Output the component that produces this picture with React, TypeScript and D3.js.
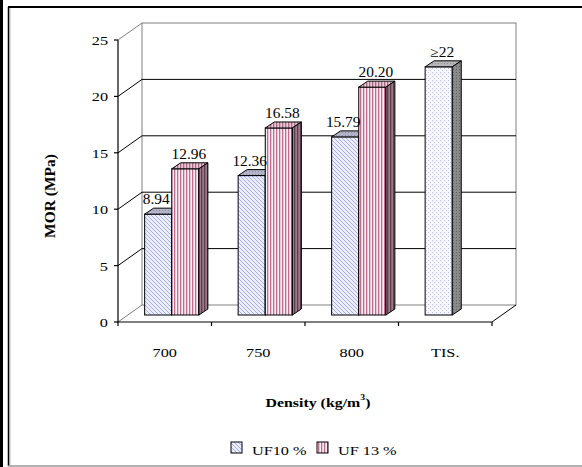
import React from 'react';
import * as d3 from 'd3';

const categories = ['700', '750', '800', 'TIS.'];
const seriesNames = ['UF10 %', 'UF 13 %'];
const uf10 = [8.94, 12.36, 15.79, null];
const uf13 = [12.96, 16.58, 20.2, null];
const tis = [null, null, null, 22];
const yTicks = [0, 5, 10, 15, 20, 25];

const FONT = "'Liberation Serif','Times New Roman',serif";

const W = 582, H = 467;
const X0 = 118, X1 = 492;
const DX = 24, DY = -17; // wall depth
const BX = 7, BY = -7; // bar front offset
const BDX = 9, BDY = -6; // bar depth

const y = d3.scaleLinear().domain([0, 25]).range([322, 40]);
const x = d3.scaleBand<string>().domain(categories).range([X0, X1]).paddingInner(0.42).paddingOuter(0.21);
const sub = d3.scaleBand<string>().domain(seriesNames).range([0, x.bandwidth()]);
const xb = d3.scaleLinear().domain([0, categories.length]).range([X0, X1]);
const fmt = d3.format('.2f');

type TP = { x: number; y: number; sx?: number; anchor?: string; size?: number; weight?: string; children: React.ReactNode };
const T = ({ x, y, sx = 1.25, anchor = 'start', size = 13, weight = 'normal', children }: TP) => (
  <text transform={`translate(${x},${y}) scale(${sx},1)`} textAnchor={anchor as any} fontSize={size} fontWeight={weight} fontFamily={FONT} fill="#000">
    {children}
  </text>
);

const pts = (a: number[][]) => a.map((p) => p.join(',')).join(' ');

function Bar({ x0, w, v, front, top, side }: { x0: number; w: number; v: number; front: string; top: string; side: string }) {
  const yT = y(v) + BY;
  const yB = y(0) + BY;
  return (
    <g stroke="#000" strokeWidth={1}>
      <rect x={x0} y={yT} width={w} height={yB - yT} fill={front} />
      <polygon points={pts([[x0, yT], [x0 + w, yT], [x0 + w + BDX, yT + BDY], [x0 + BDX, yT + BDY]])} fill={top} />
      <polygon points={pts([[x0 + w, yT], [x0 + w + BDX, yT + BDY], [x0 + w + BDX, yB + BDY], [x0 + w, yB]])} fill={side} />
    </g>
  );
}

export default function App() {
  const bw = sub.bandwidth();
  const bars: React.ReactNode[] = [];
  const labels: React.ReactNode[] = [];
  categories.forEach((c, i) => {
    const a = uf10[i];
    const b = uf13[i];
    const t = tis[i];
    const xa = (x(c) as number) + (sub(seriesNames[0]) as number) + BX;
    const xbb = (x(c) as number) + (sub(seriesNames[1]) as number) + BX;
    if (a != null) {
      bars.push(<Bar key={'a' + i} x0={xa} w={bw} v={a} front="url(#blueDiag)" top="url(#blueTop)" side="url(#blueSide)" />);
      labels.push(<T key={'la' + i} x={xa + bw / 2 - 2} y={y(a) + BY + BDY - 4} sx={1.1} size={14} anchor="middle">{fmt(a)}</T>);
    }
    if (t != null) {
      bars.push(<Bar key={'t' + i} x0={xa} w={bw} v={t} front="url(#tisFront)" top="url(#tisTop)" side="url(#tisSide)" />);
      labels.push(<T key={'lt' + i} x={xa + bw / 2 + BDX / 2 - 1} y={y(t) + BY + BDY - 4} sx={1.1} size={14} anchor="middle">{'≥' + t}</T>);
    }
    if (b != null) {
      bars.push(<Bar key={'b' + i} x0={xbb} w={bw} v={b} front="url(#pinkStripe)" top="url(#pinkTop)" side="url(#pinkSide)" />);
      labels.push(<T key={'lb' + i} x={xbb + bw / 2 + BDX / 2 - 1} y={y(b) + BY + BDY - 4} sx={1.1} size={14} anchor="middle">{fmt(b)}</T>);
    }
  });

  const gray = '#808080';
  return (
    <svg width={W} height={H} style={{ position: 'absolute', left: 0, top: 0, background: '#fff' }}>
      <defs>
        <pattern id="blueDiag" width={4} height={4} patternUnits="userSpaceOnUse">
          <rect width={4} height={4} fill="#eceeff" />
          <path d="M-1,-1 L5,5 M-1,3 L1,5 M3,-1 L5,1" stroke="#9ea6ec" strokeWidth={0.9} />
        </pattern>
        <pattern id="blueTop" width={3} height={3} patternUnits="userSpaceOnUse">
          <rect width={3} height={3} fill="#b4b4c8" />
          <rect width={1} height={1} fill="#8c8ca4" />
        </pattern>
        <pattern id="blueSide" width={3} height={3} patternUnits="userSpaceOnUse">
          <rect width={3} height={3} fill="#7c7c98" />
        </pattern>
        <pattern id="pinkStripe" width={3} height={4} patternUnits="userSpaceOnUse">
          <rect width={3} height={4} fill="#fbeef3" />
          <rect x={0} width={1.3} height={4} fill="#c06c8e" />
        </pattern>
        <pattern id="pinkTop" width={3} height={4} patternUnits="userSpaceOnUse">
          <rect width={3} height={4} fill="#e8c8d4" />
          <rect x={0} width={1.3} height={4} fill="#a86a84" />
        </pattern>
        <pattern id="pinkSide" width={3} height={4} patternUnits="userSpaceOnUse">
          <rect width={3} height={4} fill="#9a7a88" />
          <rect x={0} width={1.3} height={4} fill="#5e3e4e" />
        </pattern>
        <pattern id="tisFront" width={4} height={4} patternUnits="userSpaceOnUse">
          <rect width={4} height={4} fill="#f6f7ff" />
          <rect x={0} y={0} width={1} height={1} fill="#b8bdf0" />
          <rect x={2} y={2} width={1} height={1} fill="#b8bdf0" />
        </pattern>
        <pattern id="tisTop" width={3} height={3} patternUnits="userSpaceOnUse">
          <rect width={3} height={3} fill="#b8b8bc" />
          <rect width={1} height={1} fill="#8c8c90" />
        </pattern>
        <pattern id="tisSide" width={3} height={3} patternUnits="userSpaceOnUse">
          <rect width={3} height={3} fill="#8a8a8a" />
          <rect width={1} height={1} fill="#606060" />
        </pattern>
      </defs>

      {/* outer frame */}
      <line x1={1.5} y1={0} x2={1.5} y2={H} stroke="#000" strokeWidth={3} />
      <line x1={8} y1={7} x2={W} y2={7} stroke="#000" strokeWidth={2} />
      <line x1={8.5} y1={7} x2={8.5} y2={466} stroke="#000" strokeWidth={1.5} />
      <line x1={9.8} y1={8} x2={9.8} y2={466} stroke="#999" strokeWidth={1} />
      <line x1={8} y1={466} x2={W} y2={466} stroke="#999" strokeWidth={1.5} />

      {/* walls */}
      <g fill="none">
        <rect x={X0 + DX} y={y(25) + DY} width={X1 - X0} height={y(0) - y(25)} stroke={gray} />
        <line x1={X0} y1={y(25)} x2={X0 + DX} y2={y(25) + DY} stroke={gray} />
        <line x1={X0} y1={y(0)} x2={X0 + DX} y2={y(0) + DY} stroke={gray} />
        <line x1={X1} y1={y(0)} x2={X1 + DX} y2={y(0) + DY} stroke="#000" />
        {yTicks.filter((t) => t > 0 && t < 25).map((t) => (
          <g key={t} stroke="#000">
            <line x1={X0} y1={y(t)} x2={X0 + DX} y2={y(t) + DY} />
            <line x1={X0 + DX} y1={y(t) + DY} x2={X1 + DX} y2={y(t) + DY} />
          </g>
        ))}
      </g>

      {/* axes */}
      <g stroke="#000" strokeWidth={1.2}>
        <line x1={X0} y1={y(25)} x2={X0} y2={y(0)} />
        <line x1={X0} y1={y(0)} x2={X1} y2={y(0)} />
        {yTicks.map((t) => (
          <line key={t} x1={X0 - 4} y1={y(t)} x2={X0} y2={y(t)} />
        ))}
        {d3.range(categories.length + 1).map((k) => (
          <line key={k} x1={xb(k)} y1={y(0)} x2={xb(k)} y2={y(0) + 4} />
        ))}
      </g>
      {yTicks.map((t) => (
        <T key={t} x={108} y={y(t) + 5} anchor="end">{t}</T>
      ))}
      {categories.map((c, i) => (
        <T key={c} x={(xb(i) + xb(i + 1)) / 2} y={357} anchor="middle">{c}</T>
      ))}

      {bars}
      {labels}

      {/* titles */}
      <text transform="translate(55,196) rotate(-90)" textAnchor="middle" fontSize={15.5} fontWeight="bold" fontFamily={FONT}>MOR (MPa)</text>
      <text transform="translate(318,407) scale(1.22,1)" textAnchor="middle" fontSize={13} fontWeight="bold" fontFamily={FONT}>
        Density (kg/m<tspan dy={-7} fontSize={8}>3</tspan><tspan dy={7}>)</tspan>
      </text>

      {/* legend */}
      <rect x={231} y={442} width={11} height={11} fill="url(#blueDiag)" stroke="#000" />
      <T x={252} y={455}>{seriesNames[0]}</T>
      <rect x={317} y={442} width={11} height={11} fill="url(#pinkStripe)" stroke="#000" />
      <T x={338} y={455}>{seriesNames[1]}</T>
    </svg>
  );
}
